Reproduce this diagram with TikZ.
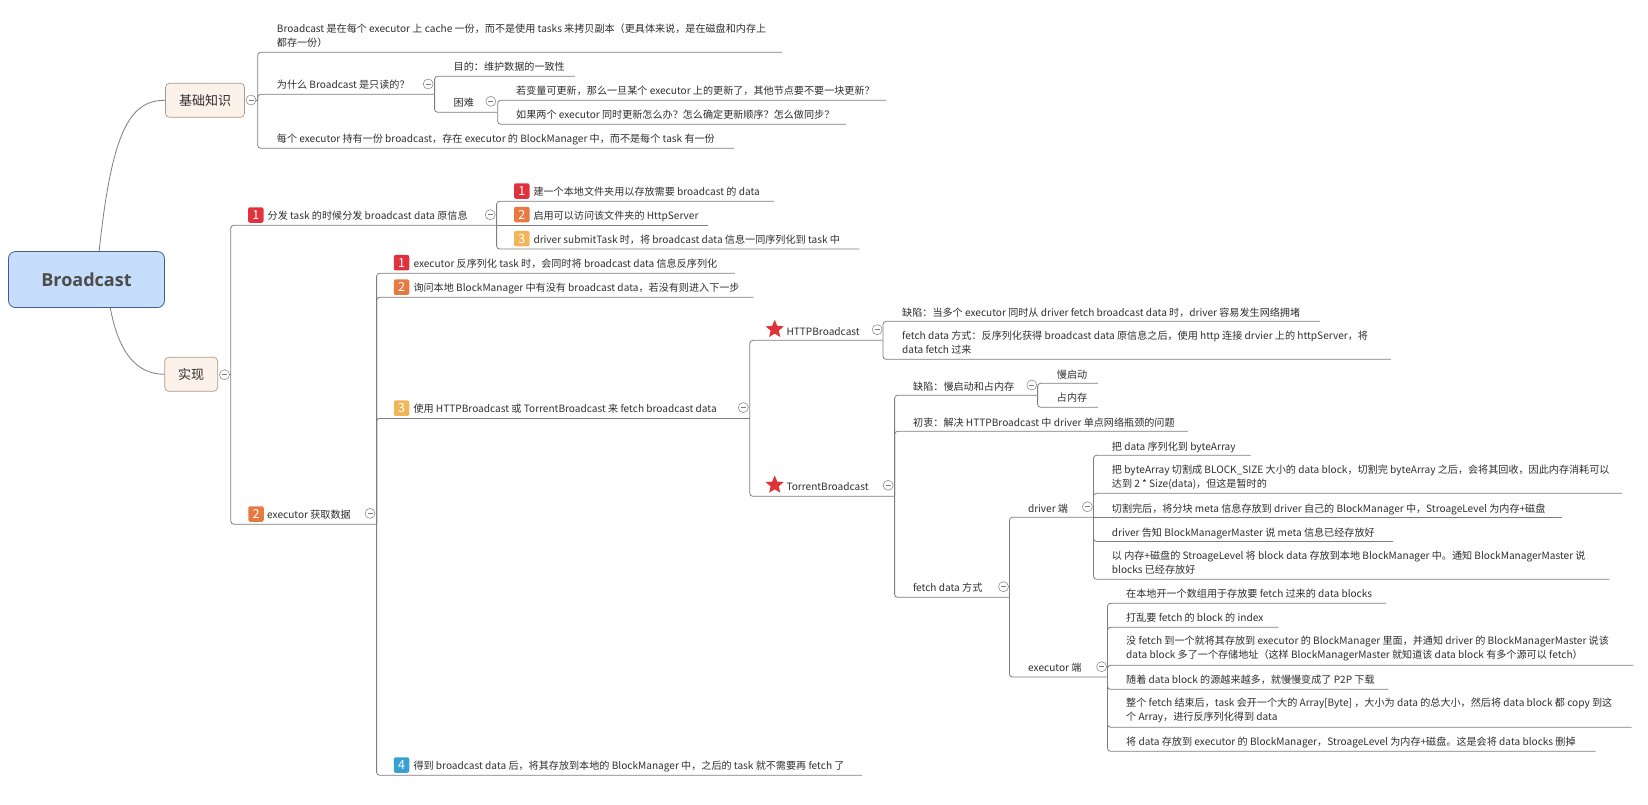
\documentclass[tikz,border=0pt]{standalone}
\usepackage{fontspec}
\setmainfont{Noto Sans CJK SC}
\newfontfamily\titlefont{Open Sans}
\usetikzlibrary{shapes.geometric}
\definecolor{linegray}{HTML}{7D7D7D}
\definecolor{inkgray}{HTML}{2E2E2E}
\definecolor{rootfill}{HTML}{C6DDFB}
\definecolor{rootline}{HTML}{3E5F8C}
\definecolor{headfill}{HTML}{FDF2EA}
\definecolor{headline}{HTML}{A89A8E}
\definecolor{starred}{HTML}{DE3438}
\definecolor{badgeone}{HTML}{E0323C}
\definecolor{badgetwo}{HTML}{E67A42}
\definecolor{badgethree}{HTML}{F2B65A}
\definecolor{badgefour}{HTML}{38A0CF}
\tikzset{
	topic/.style={anchor=west,yshift=-1.5pt,inner sep=0pt,align=left,text=inkgray,font=\fontsize{10.1}{14}\selectfont,execute at begin node=\strut,execute at end node=\strut},
	branch/.style={draw=linegray,line width=0.8pt,rounded corners=3pt},
	curve/.style={draw=linegray,line width=0.8pt},
	fold/.style={circle,draw=linegray,fill=white,line width=0.5pt,inner sep=0pt,minimum size=10pt,path picture={\draw[linegray,line width=0.5pt] ([xshift=2.5pt]path picture bounding box.west) -- ([xshift=-2.5pt]path picture bounding box.east);}},
	rootbox/.style={draw=rootline,fill=rootfill,rounded corners=7pt,line width=0.8pt,text=black!70,font=\titlefont\fontsize{18}{22}\selectfont\bfseries},
	headbox/.style={draw=headline,fill=headfill,rounded corners=4pt,line width=0.7pt,text=inkgray,font=\fontsize{13}{16}\selectfont},
	badge/.style={yshift=-1pt,rounded corners=2pt,inner sep=0pt,minimum width=15.5pt,minimum height=15.5pt,text=white,font=\fontsize{12.5}{14}\selectfont},
	redstar/.style={star,star points=5,star point ratio=2.2,fill=starred,inner sep=0pt,minimum size=19pt}
}
\begin{document}
\begin{tikzpicture}[x=1pt,y=1pt]
	\useasboundingbox (0,0) rectangle (1648,-804);
	% central topic and its two heads
	\node [rootbox,minimum width=156pt,minimum height=56pt] (root) at (86.5,-279.5) {Broadcast};
	\node [headbox,minimum width=79pt,minimum height=34pt] (know) at (205,-100.3) {基础知识};
	\node [headbox,minimum width=53pt,minimum height=34pt] (impl) at (191.2,-374.3) {实现};
	\draw [curve] (root.66) .. controls (112,-130) and (130,-100.3) .. (know.west);
	\draw [curve] (root.-50) .. controls (118,-350) and (135,-374.3) .. (impl.west);
	\node [fold] (knowf) at (251,-100) {};
	\node [fold] (implf) at (224.5,-374.7) {};
	\coordinate (knowt) at (257.7,-100);
	\coordinate (implt) at (230.8,-374.7);
	\draw [branch] (knowf) -- (knowt);
	\draw [branch] (implf) -- (implt);
	% basics
	\node [topic] (know1) at (276.7,-35.3) {Broadcast 是在每个 executor 上 cache 一份，而不是使用 tasks 来拷贝副本（更具体来说，是在磁盘和内存上\\都存一份）};
	\coordinate (know1l) at (257.7,-52.3);
	\coordinate (know1r) at (782,-52.3);
	\draw [branch] (knowt) -- (know1l) -- (know1r);
	\node [topic] (know2) at (276.7,-84.3) {为什么 Broadcast 是只读的？};
	\coordinate (know2l) at (257.7,-94.3);
	\coordinate (know2r) at (434.6,-94.3);
	\draw [branch] (knowt) -- (know2l) -- (know2r);
	\node [fold] (know2f) at (428.2,-84) {};
	\node [topic] (know3) at (276.7,-138.3) {每个 executor 持有一份 broadcast，存在 executor 的 BlockManager 中，而不是每个 task 有一份};
	\coordinate (know3l) at (257.7,-148.3);
	\coordinate (know3r) at (734,-148.3);
	\draw [branch] (knowt) -- (know3l) -- (know3r);
	\node [topic] (aim) at (453.5,-66.3) {目的：维护数据的一致性};
	\coordinate (aiml) at (434.6,-76.3);
	\coordinate (aimr) at (575,-76.3);
	\draw [branch] (know2r) -- (aiml) -- (aimr);
	\node [topic] (hard) at (453.5,-102.3) {困难};
	\coordinate (hardl) at (434.6,-112.3);
	\coordinate (hardr) at (497.7,-112.3);
	\draw [branch] (know2r) -- (hardl) -- (hardr);
	\node [fold] (hardf) at (490.8,-101.3) {};
	\node [topic] (hard1) at (516,-90.3) {若变量可更新，那么一旦某个 executor 上的更新了，其他节点要不要一块更新？};
	\coordinate (hard1l) at (497.7,-100.3);
	\coordinate (hard1r) at (886.3,-100.3);
	\draw [branch] (hardr) -- (hard1l) -- (hard1r);
	\node [topic] (hard2) at (516,-114.3) {如果两个 executor 同时更新怎么办？怎么确定更新顺序？怎么做同步？};
	\coordinate (hard2l) at (497.7,-124.3);
	\coordinate (hard2r) at (846,-124.3);
	\draw [branch] (hardr) -- (hard2l) -- (hard2r);
	% implementation, first step
	\node [badge,fill=badgeone] (send) at (255.8,-214) {1};
	\node [topic] (sendt) at (267.5,-215.3) {分发 task 的时候分发 broadcast data 原信息};
	\coordinate (sendl) at (230.8,-225.3);
	\coordinate (sendr) at (496.6,-225.3);
	\draw [branch] (implt) -- (sendl) -- (sendr);
	\node [fold] (sendf) at (490.2,-214.7) {};
	\node [badge,fill=badgeone] (send1) at (521.8,-190) {1};
	\node [topic] (send1t) at (533.3,-191.3) {建一个本地文件夹用以存放需要 broadcast 的 data};
	\coordinate (send1l) at (496.6,-201.3);
	\coordinate (send1r) at (773.8,-201.3);
	\draw [branch] (sendr) -- (send1l) -- (send1r);
	\node [badge,fill=badgetwo] (send2) at (521.8,-213.5) {2};
	\node [topic] (send2t) at (533.3,-215.3) {启用可以访问该文件夹的 HttpServer};
	\coordinate (send2r) at (708.4,-225.3);
	\draw [branch] (sendr) -- (send2r);
	\node [badge,fill=badgethree] (send3) at (521.8,-237.7) {3};
	\node [topic] (send3t) at (533.3,-239) {driver submitTask 时，将 broadcast data 信息一同序列化到 task 中};
	\coordinate (send3l) at (496.6,-249);
	\coordinate (send3r) at (859.4,-249);
	\draw [branch] (sendr) -- (send3l) -- (send3r);
	% implementation, second step
	\node [badge,fill=badgetwo] (fetch) at (256,-513) {2};
	\node [topic] (fetcht) at (267,-514) {executor 获取数据};
	\coordinate (fetchl) at (230.8,-524.2);
	\coordinate (fetchr) at (376.6,-524.2);
	\draw [branch] (implt) -- (fetchl) -- (fetchr);
	\node [fold] (fetchf) at (370,-513.4) {};
	\node [badge,fill=badgeone] (fetch1) at (401.5,-261.7) {1};
	\node [topic] (fetch1t) at (413.3,-263.3) {executor 反序列化 task 时，会同时将 broadcast data 信息反序列化};
	\coordinate (fetch1l) at (376.6,-273.3);
	\coordinate (fetch1r) at (734.8,-273.3);
	\draw [branch] (fetchr) -- (fetch1l) -- (fetch1r);
	\node [badge,fill=badgetwo] (fetch2) at (401.5,-286.2) {2};
	\node [topic] (fetch2t) at (413.3,-287) {询问本地 BlockManager 中有没有 broadcast data，若没有则进入下一步};
	\coordinate (fetch2l) at (376.6,-297.3);
	\coordinate (fetch2r) at (753.7,-297.3);
	\draw [branch] (fetchr) -- (fetch2l) -- (fetch2r);
	\node [badge,fill=badgethree] (fetch3) at (401.5,-407.2) {3};
	\node [topic] (fetch3t) at (413.3,-408) {使用 HTTPBroadcast 或 TorrentBroadcast 来 fetch broadcast data};
	\coordinate (fetch3l) at (376.6,-418.4);
	\coordinate (fetch3r) at (749.8,-418.4);
	\draw [branch] (fetchr) -- (fetch3l) -- (fetch3r);
	\node [fold] (fetch3f) at (743.3,-407.6) {};
	\node [badge,fill=badgefour] (fetch4) at (401.5,-764) {4};
	\node [topic] (fetch4t) at (413.3,-765.2) {得到 broadcast data 后，将其存放到本地的 BlockManager 中，之后的 task 就不需要再 fetch 了};
	\coordinate (fetch4l) at (376.6,-775.3);
	\coordinate (fetch4r) at (862,-775.3);
	\draw [branch] (fetchr) -- (fetch4l) -- (fetch4r);
	% the two kinds of broadcast
	\node [redstar] (http) at (774.7,-329.3) {};
	\node [topic] (httpt) at (786.3,-330.7) {HTTPBroadcast};
	\coordinate (httpl) at (749.8,-340.3);
	\coordinate (httpr) at (883,-340.3);
	\draw [branch] (fetch3r) -- (httpl) -- (httpr);
	\node [fold] (httpf) at (877.2,-329.7) {};
	\node [topic] (http1) at (902,-311.7) {缺陷：当多个 executor 同时从 driver fetch broadcast data 时，driver 容易发生网络拥堵};
	\coordinate (http1l) at (883,-321.3);
	\coordinate (http1r) at (1320.2,-321.3);
	\draw [branch] (httpr) -- (http1l) -- (http1r);
	\node [topic] (http2) at (902,-342.7) {fetch data 方式：反序列化获得 broadcast data 原信息之后，使用 http 连接 drvier 上的 httpServer，将\\data fetch 过来};
	\coordinate (http2l) at (883,-359.3);
	\coordinate (http2r) at (1390.8,-359.3);
	\draw [branch] (httpr) -- (http2l) -- (http2r);
	\node [redstar] (torr) at (774.7,-485) {};
	\node [topic] (torrt) at (786.3,-486.3) {TorrentBroadcast};
	\coordinate (torrl) at (749.8,-496.3);
	\coordinate (torrr) at (894.6,-496.3);
	\draw [branch] (fetch3r) -- (torrl) -- (torrr);
	\node [fold] (torrf) at (888.2,-485.3) {};
	\node [topic] (flaw) at (913,-385.7) {缺陷：慢启动和占内存};
	\coordinate (flawl) at (894.6,-395.3);
	\coordinate (flawr) at (1037.6,-395.3);
	\draw [branch] (torrr) -- (flawl) -- (flawr);
	\node [fold] (flawf) at (1031.8,-385) {};
	\node [topic] (flaw1) at (1056.7,-373.7) {慢启动};
	\coordinate (flaw1l) at (1037.6,-383.3);
	\coordinate (flaw1r) at (1097.8,-383.3);
	\draw [branch] (flawr) -- (flaw1l) -- (flaw1r);
	\node [topic] (flaw2) at (1056.7,-397.3) {占内存};
	\coordinate (flaw2l) at (1037.6,-407.3);
	\coordinate (flaw2r) at (1097.8,-407.3);
	\draw [branch] (flawr) -- (flaw2l) -- (flaw2r);
	\node [topic] (goal) at (913,-421.7) {初衷：解决 HTTPBroadcast 中 driver 单点网络瓶颈的问题};
	\coordinate (goall) at (894.6,-431.3);
	\coordinate (goalr) at (1188,-431.3);
	\draw [branch] (torrr) -- (goall) -- (goalr);
	\node [topic] (way) at (912.8,-587.3) {fetch data 方式};
	\coordinate (wayl) at (894.6,-597.3);
	\coordinate (wayr) at (1009.4,-597.3);
	\draw [branch] (torrr) -- (wayl) -- (wayr);
	\node [fold] (wayf) at (1003.5,-586.7) {};
	% driver side
	\node [topic] (drv) at (1027.8,-507.7) {driver 端};
	\coordinate (drvl) at (1009.4,-517.3);
	\coordinate (drvr) at (1093.5,-517.3);
	\draw [branch] (wayr) -- (drvl) -- (drvr);
	\node [fold] (drvf) at (1087.4,-506.7) {};
	\node [topic] (drv1) at (1111.7,-445.7) {把 data 序列化到 byteArray};
	\coordinate (drv1l) at (1093.5,-455.3);
	\coordinate (drv1r) at (1250.7,-455.3);
	\draw [branch] (drvr) -- (drv1l) -- (drv1r);
	\node [topic] (drv2) at (1111.7,-476.7) {把 byteArray 切割成 BLOCK\_SIZE 大小的 data block，切割完 byteArray 之后，会将其回收，因此内存消耗可以\\达到 2 * Size(data)，但这是暂时的};
	\coordinate (drv2l) at (1093.5,-493.3);
	\coordinate (drv2r) at (1622,-493.3);
	\draw [branch] (drvr) -- (drv2l) -- (drv2r);
	\node [topic] (drv3) at (1111.7,-507.7) {切割完后，将分块 meta 信息存放到 driver 自己的 BlockManager 中，StroageLevel 为内存+磁盘};
	\coordinate (drv3r) at (1561.7,-517.3);
	\draw [branch] (drvr) -- (drv3r);
	\node [topic] (drv4) at (1111.7,-531.7) {driver 告知 BlockManagerMaster 说 meta 信息已经存放好};
	\coordinate (drv4l) at (1093.5,-541.5);
	\coordinate (drv4r) at (1393,-541.5);
	\draw [branch] (drvr) -- (drv4l) -- (drv4r);
	\node [topic] (drv5) at (1111.7,-562.3) {以 内存+磁盘的 StroageLevel 将 block data 存放到本地 BlockManager 中。通知 BlockManagerMaster 说\\blocks 已经存放好};
	\coordinate (drv5l) at (1093.5,-579.3);
	\coordinate (drv5r) at (1609.4,-579.3);
	\draw [branch] (drvr) -- (drv5l) -- (drv5r);
	% executor side
	\node [topic] (exe) at (1028,-667.3) {executor 端};
	\coordinate (exel) at (1009.4,-677);
	\coordinate (exer) at (1107.5,-677);
	\draw [branch] (wayr) -- (exel) -- (exer);
	\node [fold] (exef) at (1101.6,-666.7) {};
	\node [topic] (exe1) at (1126,-593.3) {在本地开一个数组用于存放要 fetch 过来的 data blocks};
	\coordinate (exe1l) at (1107.5,-603.3);
	\coordinate (exe1r) at (1386.4,-603.3);
	\draw [branch] (exer) -- (exe1l) -- (exe1r);
	\node [topic] (exe2) at (1126,-617.3) {打乱要 fetch 的 block 的 index};
	\coordinate (exe2l) at (1107.5,-627.3);
	\coordinate (exe2r) at (1278.5,-627.3);
	\draw [branch] (exer) -- (exe2l) -- (exe2r);
	\node [topic] (exe3) at (1126,-648.3) {没 fetch 到一个就将其存放到 executor 的 BlockManager 里面，并通知 driver 的 BlockManagerMaster 说该\\data block 多了一个存储地址（这样 BlockManagerMaster 就知道该 data block 有多个源可以 fetch）};
	\coordinate (exe3l) at (1107.5,-665.3);
	\coordinate (exe3r) at (1633.4,-665.3);
	\draw [branch] (exer) -- (exe3l) -- (exe3r);
	\node [topic] (exe4) at (1126,-679.3) {随着 data block 的源越来越多，就慢慢变成了 P2P 下载};
	\coordinate (exe4l) at (1107.5,-689.3);
	\coordinate (exe4r) at (1388.3,-689.3);
	\draw [branch] (exer) -- (exe4l) -- (exe4r);
	\node [topic] (exe5) at (1126,-710.3) {整个 fetch 结束后，task 会开一个大的 Array[Byte] ，大小为 data 的总大小，然后将 data block 都 copy 到这\\个 Array，进行反序列化得到 data};
	\coordinate (exe5l) at (1107.5,-727.3);
	\coordinate (exe5r) at (1631.5,-727.3);
	\draw [branch] (exer) -- (exe5l) -- (exe5r);
	\node [topic] (exe6) at (1126,-741.3) {将 data 存放到 executor 的 BlockManager，StroageLevel 为内存+磁盘。这是会将 data blocks 删掉};
	\coordinate (exe6l) at (1107.5,-751.3);
	\coordinate (exe6r) at (1595.7,-751.3);
	\draw [branch] (exer) -- (exe6l) -- (exe6r);
\end{tikzpicture}
\end{document}
